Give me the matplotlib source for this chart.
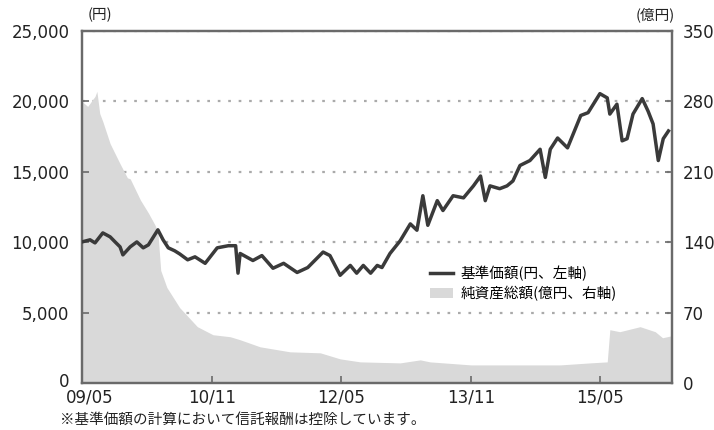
import pandas as pd
import matplotlib
matplotlib.use("Agg")
import matplotlib.pyplot as plt
import matplotlib.dates as mdates
import matplotlib.transforms as mtransforms
from matplotlib.lines import Line2D
from matplotlib.patches import Patch

plt.rcParams['font.family'] = ['Noto Sans CJK JP', 'DejaVu Sans']

# 基準価額 (円)
price_dates = [
    "2009-05-01", "2009-06-04", "2009-06-25", "2009-07-28", "2009-08-28", "2009-09-18",
    "2009-10-09", "2009-10-21", "2009-11-21", "2009-12-19", "2010-01-15", "2010-02-06",
    "2010-03-18", "2010-04-09", "2010-05-01", "2010-05-28", "2010-06-18", "2010-07-22",
    "2010-08-22", "2010-10-04", "2010-11-24", "2011-01-10", "2011-02-10", "2011-02-20",
    "2011-03-01", "2011-04-24", "2011-06-01", "2011-07-18", "2011-09-01", "2011-10-28",
    "2011-12-12", "2012-02-15", "2012-03-15", "2012-04-27", "2012-06-09", "2012-07-06",
    "2012-08-03", "2012-09-03", "2012-10-01", "2012-10-21", "2012-11-24", "2013-01-06",
    "2013-02-18", "2013-03-18", "2013-04-12", "2013-05-03", "2013-06-12", "2013-07-06",
    "2013-08-18", "2013-10-01", "2013-11-12", "2013-12-12", "2014-01-01", "2014-01-21",
    "2014-03-03", "2014-04-03", "2014-04-28", "2014-05-28", "2014-07-09", "2014-08-21",
    "2014-09-12", "2014-10-03", "2014-11-03", "2014-12-15", "2015-02-09", "2015-03-12",
    "2015-05-01", "2015-06-01", "2015-06-12", "2015-07-12", "2015-08-03", "2015-08-24",
    "2015-09-18", "2015-10-27", "2015-11-21", "2015-12-12", "2016-01-03", "2016-01-24",
    "2016-02-15",
]
price = [
    10020, 10170, 9950, 10660, 10380, 10020,
    9670, 9100, 9670, 10020, 9600, 9810,
    10880, 10170, 9600, 9390, 9170, 8750,
    8960, 8500, 9600, 9750, 9750, 7800,
    9200, 8700, 9050, 8150, 8500, 7850,
    8200, 9300, 9050, 7650, 8350, 7800,
    8350, 7800, 8350, 8200, 9200, 10100,
    11300, 10850, 13300, 11200, 12950, 12250,
    13300, 13150, 14000, 14700, 12950, 14000,
    13800, 14000, 14350, 15450, 15800, 16600,
    14600, 16600, 17400, 16700, 19000, 19200,
    20550, 20250, 19100, 19800, 17200, 17350,
    19100, 20200, 19300, 18400, 15800, 17350,
    17900,
]

# 純資産総額 (億円)
asset_dates = [
    "2009-05-01", "2009-05-25", "2009-06-25", "2009-07-03", "2009-07-15", "2009-07-28",
    "2009-08-28", "2009-10-09", "2009-11-09", "2009-11-21", "2010-01-03", "2010-02-06",
    "2010-03-06", "2010-03-18", "2010-03-30", "2010-04-25", "2010-06-18", "2010-09-01",
    "2010-11-06", "2011-01-18", "2011-03-01", "2011-05-24", "2011-09-28", "2012-02-03",
    "2012-04-27", "2012-07-21", "2013-01-06", "2013-04-01", "2013-05-12", "2013-11-01",
    "2014-05-28", "2014-11-15", "2015-03-21", "2015-06-01", "2015-06-12", "2015-07-24",
    "2015-10-18", "2015-12-21", "2016-01-21", "2016-02-29",
]
assets = [
    280, 275, 285, 290, 268, 260,
    238, 218, 204, 203, 182, 169,
    157, 150, 112, 95, 75, 56,
    48, 46, 43, 36, 31, 30,
    24, 21, 20, 23, 21, 18,
    18, 18, 20, 21, 53, 51,
    56, 51, 45, 47,
]

tick_dates = ["2009-05-01", "2010-11-01", "2012-05-01", "2013-11-01", "2015-05-01"]

pd_price = pd.to_datetime(price_dates)
pd_assets = pd.to_datetime(asset_dates)

fig = plt.figure(figsize=(7.14, 4.30), dpi=100)
ax = fig.add_axes([82 / 714, 1 - 383 / 430, 590 / 714, 352 / 430])
ax2 = ax.twinx()

dark = "#3a3a3a"
spine_c = "#6a6a6a"
num_font = "DejaVu Sans"

ax2.fill_between(pd_assets, assets, 0, color="#d9d9d9", lw=0, zorder=2)
ax2.set_ylim(0, 350)
ax2.set_yticks([0, 70, 140, 210, 280, 350])
ax2.grid(axis="y", color="#aaaaaa", linestyle=(0, (1.2, 3.5)), linewidth=1.6)
ax2.set_axisbelow(True)

ax.plot(pd_price, price, color=dark, lw=2.5, zorder=3)
ax.set_ylim(0, 25000)
ax.set_yticks([0, 5000, 10000, 15000, 20000, 25000])
ax.set_yticklabels(["0", "5,000", "10,000", "15,000", "20,000", "25,000"])
ax.set_zorder(ax2.get_zorder() + 1)
ax.patch.set_visible(False)

ax.set_xlim(pd.Timestamp("2009-05-01"), pd.Timestamp("2016-03-01"))
ax.set_xticks(pd.to_datetime(tick_dates))
ax.xaxis.set_major_formatter(mdates.DateFormatter("%y/%m"))

for a in (ax, ax2):
    for s in a.spines.values():
        s.set_color(spine_c)
        s.set_linewidth(1.6)
    a.tick_params(direction="in", length=5, width=1.2, color=spine_c,
                  labelsize=12, labelcolor="#222222")
    for lab in a.get_xticklabels() + a.get_yticklabels():
        lab.set_family(num_font)
ax.tick_params(axis="y", pad=9)
ax2.tick_params(axis="y", pad=8)
ax.tick_params(axis="x", pad=4)

# first date label sits a little right of its tick, the "0" a touch higher
first = ax.get_xticklabels()[0]
first.set_transform(first.get_transform() +
                    mtransforms.ScaledTranslation(8 / 100, 0, fig.dpi_scale_trans))
zero = ax.get_yticklabels()[0]
zero.set_transform(zero.get_transform() +
                   mtransforms.ScaledTranslation(0, 3 / 100, fig.dpi_scale_trans))

ax.text(0.01, 1.025, "(円)", transform=ax.transAxes, fontsize=10.5,
        ha="left", va="bottom", color="#222222")
ax.text(1.005, 1.025, "(億円)", transform=ax.transAxes, fontsize=10.5,
        ha="right", va="bottom", color="#222222")

handles = [Line2D([0], [0], color=dark, lw=2.5),
           Patch(facecolor="#d9d9d9", edgecolor="none")]
ax.legend(handles, ["基準価額(円、左軸)", "純資産総額(億円、右軸)"],
          loc="upper left", bbox_to_anchor=(0.58, 0.35), frameon=False,
          fontsize=10.5, handlelength=1.6, handletextpad=0.5,
          labelspacing=0.35, borderaxespad=0)

fig.text(60 / 714, 1 - 420 / 430, "※基準価額の計算において信託報酬は控除しています。",
         fontsize=10.5, ha="left", va="center", color="#222222")

fig.savefig("out.png", dpi=100, facecolor="white")
